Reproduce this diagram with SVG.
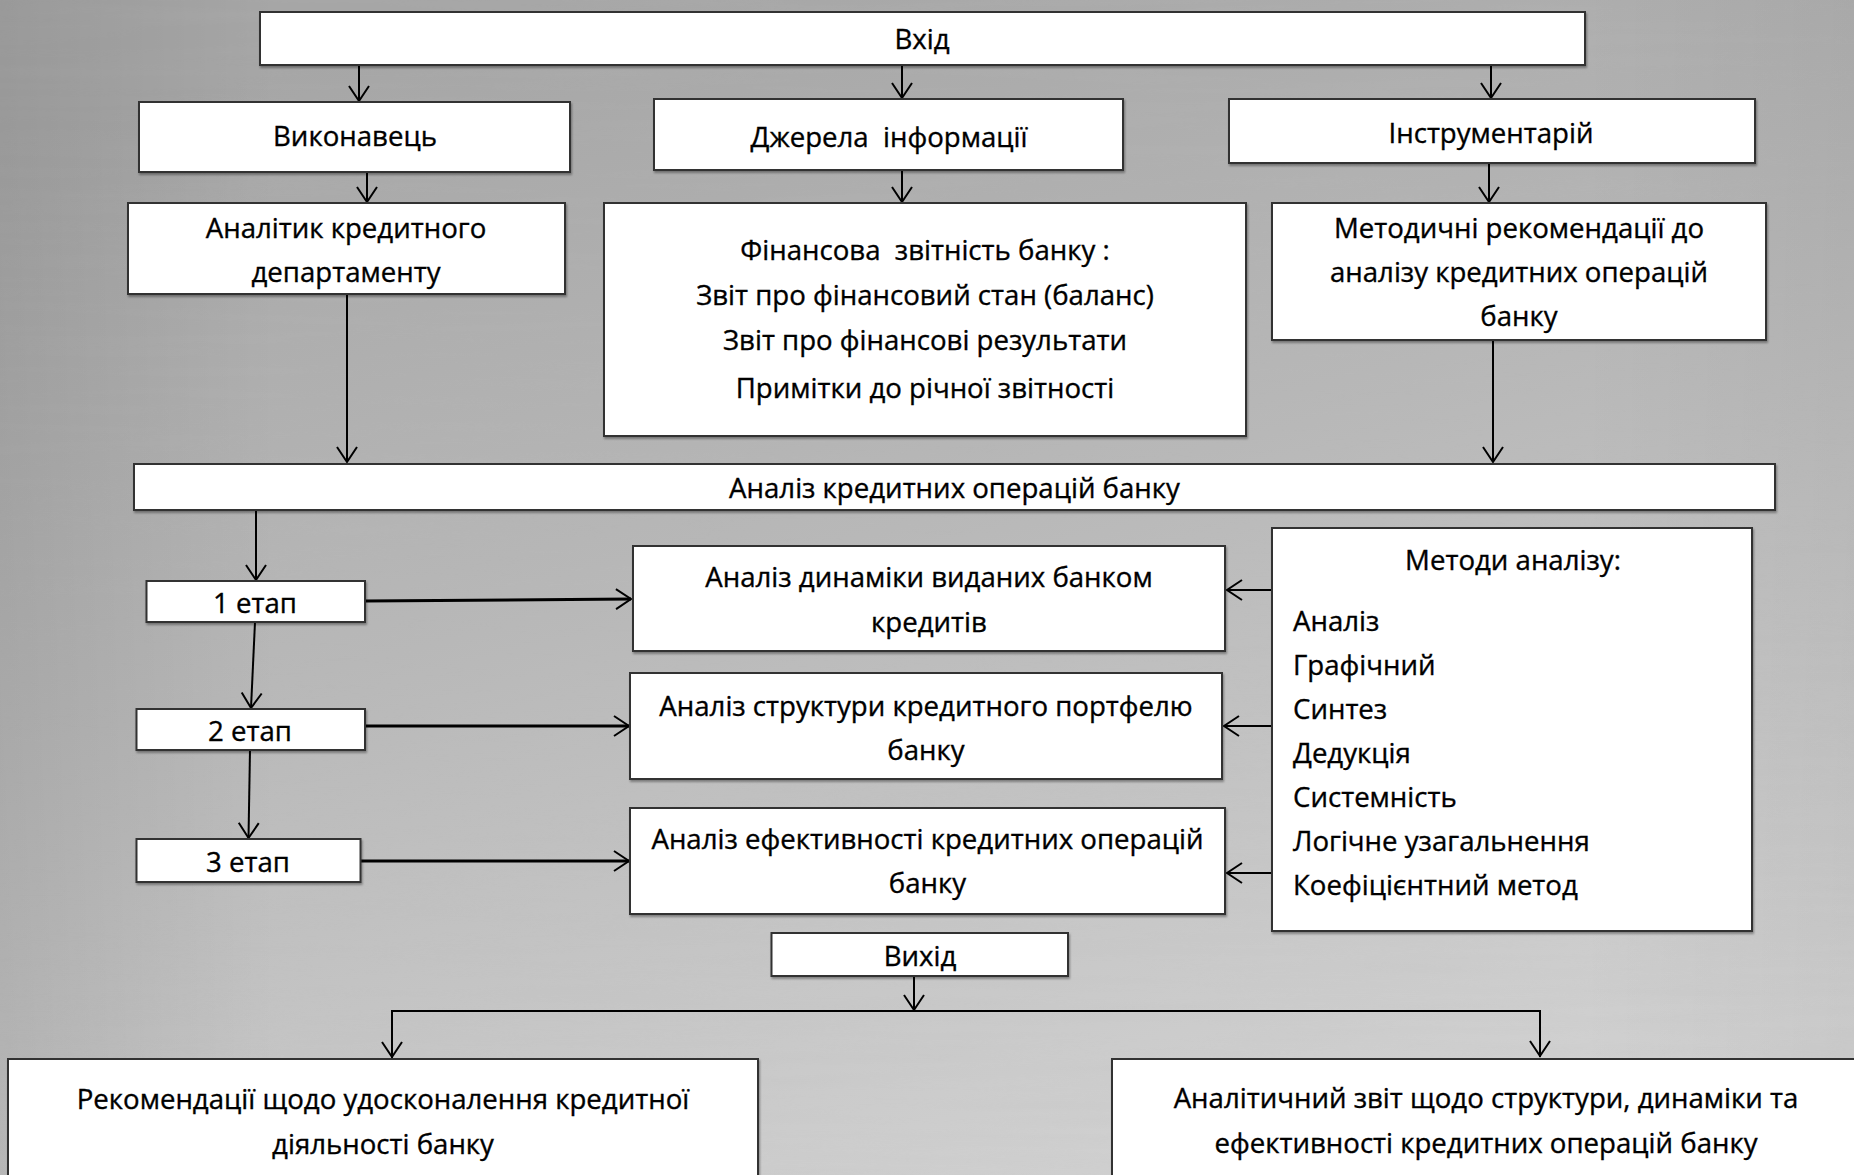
<svg xmlns="http://www.w3.org/2000/svg" width="1854" height="1175" viewBox="0 0 1854 1175">
<defs>
<linearGradient id="bg" x1="0.3" y1="0" x2="0.7" y2="1">
<stop offset="0" stop-color="#a6a6a6"/>
<stop offset="0.45" stop-color="#b8b8b8"/>
<stop offset="1" stop-color="#d2d2d2"/>
</linearGradient>
<linearGradient id="edge" x1="0" y1="0" x2="1" y2="0">
<stop offset="0" stop-color="#000" stop-opacity="0.08"/>
<stop offset="0.15" stop-color="#000" stop-opacity="0"/>
<stop offset="0.85" stop-color="#000" stop-opacity="0"/>
<stop offset="1" stop-color="#000" stop-opacity="0.04"/>
</linearGradient>
<filter id="tex" x="0" y="0" width="100%" height="100%">
<feTurbulence type="fractalNoise" baseFrequency="0.004 0.09" numOctaves="2" seed="3"/>
<feColorMatrix type="matrix" values="0 0 0 0 0.5  0 0 0 0 0.5  0 0 0 0 0.5  0.6 0 0 0 -0.2"/>
</filter>
<filter id="sh" x="-5%" y="-5%" width="110%" height="120%">
<feDropShadow dx="1" dy="2" stdDeviation="1" flood-color="#000" flood-opacity="0.35"/>
</filter>
<marker id="ah" markerUnits="userSpaceOnUse" markerWidth="24" markerHeight="24" viewBox="-18 -12 20 24" refX="0" refY="0" orient="auto">
<path d="M-15,-10 L0,0 L-15,10" fill="none" stroke="#000" stroke-width="2"/>
</marker>
</defs>
<style>
.box{fill:#fff;stroke:#333;stroke-width:2;filter:url(#sh)}
.t{font-family:"Open Sans","Liberation Sans",sans-serif;font-size:27.6px;fill:#000;stroke:#000;stroke-width:0.35px;text-anchor:middle;white-space:pre}
.l{text-anchor:start}
.c{fill:none;stroke:#000;stroke-width:2}
.c3{fill:none;stroke:#000;stroke-width:3}
</style>
<rect x="0" y="0" width="1854" height="1175" fill="url(#bg)"/>
<rect x="0" y="0" width="1854" height="1175" filter="url(#tex)" opacity="0.35"/>
<rect x="0" y="0" width="1854" height="1175" fill="url(#edge)"/>

<g id="connectors">
<line class="c" x1="359" y1="65" x2="359" y2="101" marker-end="url(#ah)"/>
<line class="c" x1="902" y1="65" x2="902" y2="98" marker-end="url(#ah)"/>
<line class="c" x1="1491" y1="65" x2="1491" y2="98" marker-end="url(#ah)"/>
<line class="c" x1="367" y1="172" x2="367" y2="202" marker-end="url(#ah)"/>
<line class="c" x1="902" y1="170" x2="902" y2="202" marker-end="url(#ah)"/>
<line class="c" x1="1489" y1="163" x2="1489" y2="202" marker-end="url(#ah)"/>
<line class="c" x1="347" y1="294" x2="347" y2="462" marker-end="url(#ah)"/>
<line class="c" x1="1493" y1="340" x2="1493" y2="462" marker-end="url(#ah)"/>
<line class="c" x1="256" y1="510" x2="256" y2="580" marker-end="url(#ah)"/>
<line class="c" x1="255" y1="622" x2="251" y2="708" marker-end="url(#ah)"/>
<line class="c" x1="250" y1="750" x2="248.5" y2="838" marker-end="url(#ah)"/>
<line class="c3" x1="365" y1="601" x2="631" y2="599" marker-end="url(#ah)"/>
<line class="c3" x1="365" y1="726" x2="629" y2="726" marker-end="url(#ah)"/>
<line class="c3" x1="360" y1="861" x2="629" y2="861" marker-end="url(#ah)"/>
<line class="c" x1="1272" y1="590" x2="1227" y2="590" marker-end="url(#ah)"/>
<line class="c" x1="1272" y1="726" x2="1224" y2="726" marker-end="url(#ah)"/>
<line class="c" x1="1272" y1="873" x2="1227" y2="873" marker-end="url(#ah)"/>
<line class="c" x1="914" y1="976" x2="914" y2="1010" marker-end="url(#ah)"/>
<polyline class="c" points="392,1058 392,1011 1540,1011 1540,1057"/>
<line class="c" x1="392" y1="1040" x2="392" y2="1057" marker-end="url(#ah)"/>
<line class="c" x1="1540" y1="1040" x2="1540" y2="1056" marker-end="url(#ah)"/>
</g>

<g id="vhid"><rect class="box" x="260" y="12" width="1325" height="53"/><text class="t" x="922" y="49">Вхід</text></g>
<g id="vykonavets"><rect class="box" x="139" y="102" width="431" height="70"/><text class="t" x="355" y="146">Виконавець</text></g>
<g id="dzherela"><rect class="box" x="654" y="99" width="469" height="71"/><text class="t" x="889" y="147">Джерела  інформації</text></g>
<g id="instrumentarii"><rect class="box" x="1229" y="99" width="526" height="64"/><text class="t" x="1491" y="143">Інструментарій</text></g>
<g id="analityk"><rect class="box" x="128" y="203" width="437" height="91"/><text class="t" x="346" y="238">Аналітик кредитного</text><text class="t" x="346" y="282">департаменту</text></g>
<g id="finansova"><rect class="box" x="604" y="203" width="642" height="233"/>
<text class="t" x="925" y="260">Фінансова  звітність банку :</text>
<text class="t" x="925" y="305">Звіт про фінансовий стан (баланс)</text>
<text class="t" x="925" y="350">Звіт про фінансові результати</text>
<text class="t" x="925" y="398">Примітки до річної звітності</text></g>
<g id="metodychni"><rect class="box" x="1272" y="203" width="494" height="137"/>
<text class="t" x="1519" y="238">Методичні рекомендації до</text>
<text class="t" x="1519" y="282">аналізу кредитних операцій</text>
<text class="t" x="1519" y="326">банку</text></g>
<g id="analiz"><rect class="box" x="134" y="464" width="1641" height="46"/><text class="t" x="954.5" y="497.5">Аналіз кредитних операцій банку</text></g>
<g id="etap1"><rect class="box" x="146.5" y="581" width="218.5" height="41"/><text class="t" x="255" y="612.5">1 етап</text></g>
<g id="etap2"><rect class="box" x="136.5" y="709" width="228.5" height="41"/><text class="t" x="250" y="741">2 етап</text></g>
<g id="etap3"><rect class="box" x="136.5" y="839" width="224" height="43"/><text class="t" x="248" y="872">3 етап</text></g>
<g id="dynamiky"><rect class="box" x="633" y="546" width="592" height="105"/><text class="t" x="929" y="587">Аналіз динаміки виданих банком</text><text class="t" x="929" y="631.5">кредитів</text></g>
<g id="struktury"><rect class="box" x="630" y="673" width="592" height="106"/><text class="t" x="926" y="716">Аналіз структури кредитного портфелю</text><text class="t" x="926" y="760">банку</text></g>
<g id="efektyvnosti"><rect class="box" x="630" y="808" width="595" height="106"/><text class="t" x="927.5" y="848.5">Аналіз ефективності кредитних операцій</text><text class="t" x="927.5" y="893">банку</text></g>
<g id="metody"><rect class="box" x="1272" y="528" width="480" height="403"/>
<text class="t" x="1513" y="570">Методи аналізу:</text>
<text class="t l" x="1293" y="630.5">Аналіз</text>
<text class="t l" x="1293" y="674.5">Графічний</text>
<text class="t l" x="1293" y="718.5">Синтез</text>
<text class="t l" x="1293" y="762.5">Дедукція</text>
<text class="t l" x="1293" y="806.5">Системність</text>
<text class="t l" x="1293" y="850.5">Логічне узагальнення</text>
<text class="t l" x="1293" y="894.5">Коефіцієнтний метод</text></g>
<g id="vyhid"><rect class="box" x="771.5" y="933" width="296.5" height="43"/><text class="t" x="920" y="965.5">Вихід</text></g>
<g id="rekomendatsii"><rect class="box" x="8" y="1059" width="750" height="130"/><text class="t" x="383" y="1109">Рекомендації щодо удосконалення кредитної</text><text class="t" x="383" y="1154">діяльності банку</text></g>
<g id="zvit"><rect class="box" x="1112" y="1059" width="760" height="130"/><text class="t" x="1486" y="1108">Аналітичний звіт щодо структури, динаміки та</text><text class="t" x="1486" y="1153">ефективності кредитних операцій банку</text></g>
</svg>
